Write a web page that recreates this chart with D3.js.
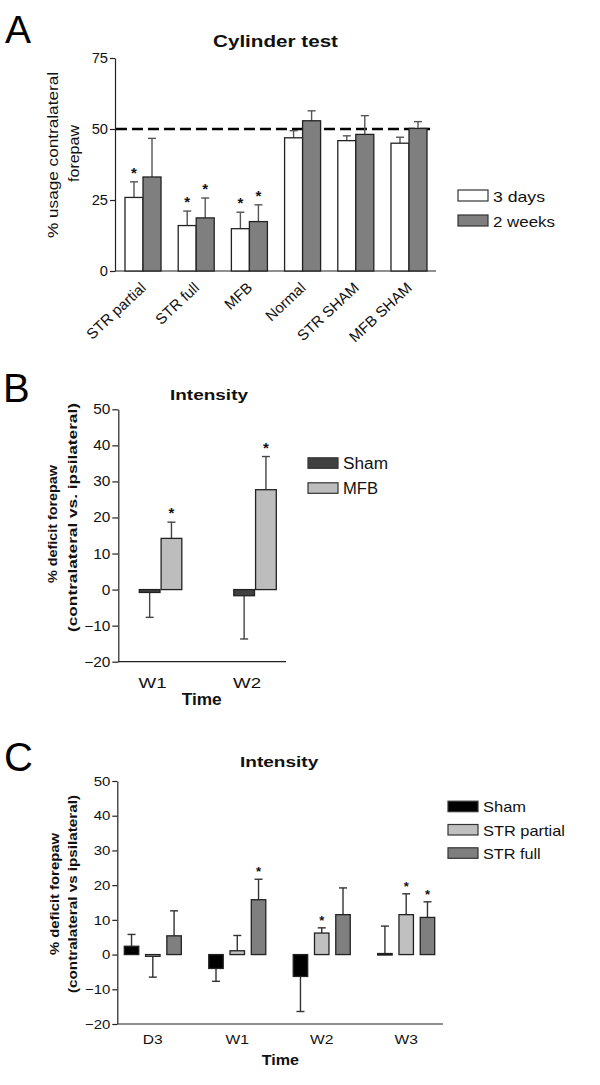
<!DOCTYPE html>
<html><head><meta charset="utf-8">
<script src="https://cdn.jsdelivr.net/npm/d3@7"></script>
<style>body{margin:0;background:#fff}svg{display:block}text{font-family:"Liberation Sans",Arial,sans-serif}</style>
</head><body>
<script>
// ---- Panel A data ----
const catsA = ["STR partial","STR full","MFB","Normal","STR SHAM","MFB SHAM"];
const seriesA = ["3 days","2 weeks"];
const a3days = [25.9,16.0,14.9,46.9,45.9,45.0];
const a3daysErr = [5.5,5.1,5.8,2.5,1.7,2.1];
const a2weeks = [33.1,18.7,17.4,52.9,48.1,50.2];
const a2weeksErr = [13.6,7.0,5.9,3.5,6.6,2.4];
const a3daysStar = [1,1,1,0,0,0];
const a2weeksStar = [0,1,1,0,0,0];
const ticksA = [0,25,50,75];
const refLineA = 50;
// ---- Panel B data ----
const timesB = ["W1","W2"];
const seriesB = ["Sham","MFB"];
const bSham = [-0.8,-1.7];
const bShamErr = [6.9,12.0];
const bMFB = [14.2,27.7];
const bMFBErr = [4.5,9.2];
const bShamStar = [0,0];
const bMFBStar = [1,1];
const ticksB = [-20,-10,0,10,20,30,40,50];
// ---- Panel C data ----
const timesC = ["D3","W1","W2","W3"];
const seriesC = ["Sham","STR partial","STR full"];
const cSham = [2.4,-4.0,-6.3,0.3];
const cShamErr = [3.4,3.7,10.1,7.9];
const cPartial = [-0.5,1.1,6.2,11.5];
const cPartialErr = [6.0,4.4,1.5,6.0];
const cFull = [5.4,15.8,11.5,10.7];
const cFullErr = [7.2,5.9,7.7,4.5];
const cShamStar = [0,0,0,0];
const cPartialStar = [0,0,1,1];
const cFullStar = [0,1,0,1];
const ticksC = [-20,-10,0,10,20,30,40,50];

const svg = d3.select("body").append("svg").attr("width",600).attr("height",1085);
const AX = "#222";
const FONT = "Liberation Sans, Arial, sans-serif";

function stretch(sel, f){
  sel.each(function(){
    const L = this.getComputedTextLength();
    d3.select(this).attr("textLength",L*f).attr("lengthAdjust","spacingAndGlyphs");
  });
}
function txt(g, s, x, y, fs, len, opt={}){
  const t = g.append("text").attr("font-size",fs).attr("fill","#111").text(s);
  if(opt.bold) t.attr("font-weight","bold");
  if(opt.rot!=null){
    t.attr("transform",`translate(${x},${y}) rotate(${opt.rot})`);
  } else { t.attr("x",x).attr("y",y); }
  if(opt.anchor) t.attr("text-anchor",opt.anchor);
  if(len) t.attr("textLength",len).attr("lengthAdjust","spacingAndGlyphs");
  return t;
}

function drawBars(g, cats, series, vals, errs, stars, colors, x, xi, y, opt){
  series.forEach((s,si)=>{
    cats.forEach((c,ci)=>{
      const v = vals[si][ci], e = errs[si][ci];
      const x0 = x(c)+xi(s), w = xi.bandwidth();
      const y0 = y(0), yv = y(v);
      const cx = x0 + w/2;
      const tip = v>=0 ? v+e : v-e;
      g.append("line").attr("x1",cx).attr("x2",cx).attr("y1",yv).attr("y2",y(tip))
        .attr("stroke",opt.errColor).attr("stroke-width",1.4);
      g.append("line").attr("x1",cx-opt.cap).attr("x2",cx+opt.cap).attr("y1",y(tip)).attr("y2",y(tip))
        .attr("stroke",opt.errColor).attr("stroke-width",1.4);
      g.append("rect").attr("x",x0).attr("width",w)
        .attr("y",Math.min(y0,yv)).attr("height",Math.max(Math.abs(y0-yv),1.5))
        .attr("fill",colors[si]).attr("stroke","#222").attr("stroke-width",1.3);
      if(stars[si][ci]){
        g.append("text").attr("x",cx).attr("y",y(tip)-opt.starGap).attr("text-anchor","middle")
          .attr("font-size",opt.starSize).attr("font-weight","bold").attr("fill","#111").text("*");
      }
    });
  });
}
function yAxis(g, y, ticks, xpos, fs, tl, f){
  const ax = d3.axisLeft(y).tickValues(ticks).tickSize(tl).tickPadding(2).tickSizeOuter(0);
  const a = g.append("g").attr("transform",`translate(${xpos},0)`).call(ax);
  a.selectAll("path,line").attr("stroke",AX).attr("stroke-width",1.2);
  a.selectAll("text").attr("font-size",fs).attr("fill","#111").attr("font-family",FONT);
  stretch(a.selectAll("text"), f);
  return a;
}
function legend(g, items, colors, x, y0, dy, fs, bw, bh, lens){
  items.forEach((t,i)=>{
    g.append("rect").attr("x",x).attr("y",y0+i*dy-bh).attr("width",bw).attr("height",bh)
      .attr("fill",colors[i]).attr("stroke","#333").attr("stroke-width",1.2);
    txt(g,t,x+bw+5,y0+i*dy+0.5,fs,lens[i]);
  });
}

// ================= Panel A =================
{
  const g = svg.append("g");
  const y = d3.scaleLinear().domain([0,75]).range([271,58]);
  const x = d3.scaleBand().domain(catsA).range([125,427]).paddingInner(0.323).paddingOuter(0);
  const xi = d3.scaleBand().domain(seriesA).range([0,x.bandwidth()]).padding(0);
  g.append("text").attr("x",5).attr("y",43).attr("font-size",39).attr("fill","#000").text("A");
  txt(g,"Cylinder test",213,47,16.5,125,{bold:true});
  yAxis(g,y,ticksA,115,14,5,1.05);
  const xa = g.append("g").attr("transform",`translate(0,${y(0)})`)
    .call(d3.axisBottom(x).tickSize(0).tickSizeOuter(0));
  xa.select(".domain").attr("d","M115,0H436").attr("stroke",AX).attr("stroke-width",1.2);
  xa.selectAll(".tick").attr("transform",d=>`translate(${x(d)+x.bandwidth()/2},0)`);
  xa.selectAll("text").attr("font-size",15).attr("fill","#111").attr("font-family",FONT)
    .attr("text-anchor","end").attr("dy",null).attr("y",0)
    .attr("transform","translate(4,18) rotate(-43)");
  g.append("line").attr("x1",116).attr("x2",430).attr("y1",y(refLineA)).attr("y2",y(refLineA))
    .attr("stroke","#000").attr("stroke-width",2.6).attr("stroke-dasharray","11,5");
  drawBars(g,catsA,seriesA,[a3days,a2weeks],[a3daysErr,a2weeksErr],[a3daysStar,a2weeksStar],["#ffffff","#7f7f7f"],x,xi,y,
    {errColor:"#555",cap:4,starGap:4,starSize:15});
  txt(g,"% usage contralateral",58,155,15.5,166,{rot:-90,anchor:"middle"});
  txt(g,"forepaw",78.5,153.5,15.5,57,{rot:-90,anchor:"middle"});
  legend(g,seriesA,["#ffffff","#7f7f7f"],458,201,25,14.5,30,11,[52,62]);
}

// ================= Panel B =================
{
  const g = svg.append("g");
  const y = d3.scaleLinear().domain([-20,50]).range([661.7,409.3]);
  const x = d3.scaleBand().domain(timesB).range([139.3,276.3]).paddingInner(0.55).paddingOuter(0);
  const xi = d3.scaleBand().domain(seriesB).range([0,x.bandwidth()]).paddingInner(0.05).paddingOuter(0);
  g.append("text").attr("x",3).attr("y",402).attr("font-size",40).attr("fill","#000").text("B");
  txt(g,"Intensity",170,400,15.5,78,{bold:true});
  yAxis(g,y,ticksB,118.3,14,6,1.1);
  const xa = g.append("g").attr("transform",`translate(0,${y(-20)})`)
    .call(d3.axisBottom(x).tickSize(0).tickSizeOuter(0));
  xa.select(".domain").attr("d","M118.3,0H286").attr("stroke",AX).attr("stroke-width",1.2);
  xa.selectAll("text").attr("font-size",14).attr("fill","#111").attr("font-family",FONT)
    .attr("dy",null).attr("y",26.6).attr("x",-8).attr("textLength",28).attr("lengthAdjust","spacingAndGlyphs");
  drawBars(g,timesB,seriesB,[bSham,bMFB],[bShamErr,bMFBErr],[bShamStar,bMFBStar],["#404040","#bdbdbd"],x,xi,y,
    {errColor:"#444",cap:4,starGap:4,starSize:15});
  txt(g,"Time",181.7,705,16,40,{bold:true});
  txt(g,"% deficit forepaw",57,524,13,118,{rot:-90,anchor:"middle",bold:true});
  txt(g,"(contralateral vs. ipsilateral)",77,517.5,13,229,{rot:-90,anchor:"middle",bold:true});
  legend(g,seriesB,["#404040","#bdbdbd"],308,468.3,25,16,30,10.5,[45,35]);
}

// ================= Panel C =================
{
  const g = svg.append("g");
  const y = d3.scaleLinear().domain([-20,50]).range([1024,781]);
  const x = d3.scaleBand().domain(timesC).range([124.3,434.7]).paddingInner(0.325).paddingOuter(0);
  const xi = d3.scaleBand().domain(seriesC).range([0,x.bandwidth()]).paddingInner(0.32).paddingOuter(0);
  g.append("text").attr("x",4).attr("y",771).attr("font-size",40).attr("fill","#000").text("C");
  txt(g,"Intensity",240,767,15.5,78.3,{bold:true});
  yAxis(g,y,ticksC,117.3,13,5,1.15);
  const xa = g.append("g").attr("transform",`translate(0,${y(-20)})`)
    .call(d3.axisBottom(x).tickSize(0).tickSizeOuter(0));
  xa.select(".domain").attr("d","M117.3,0H443").attr("stroke",AX).attr("stroke-width",1.2);
  xa.selectAll("text").attr("font-size",13).attr("fill","#111").attr("font-family",FONT)
    .attr("dy",null).attr("y",20);
  stretch(xa.selectAll("text"),1.2);
  drawBars(g,timesC,seriesC,[cSham,cPartial,cFull],[cShamErr,cPartialErr,cFullErr],[cShamStar,cPartialStar,cFullStar],["#000000","#c0c0c0","#7f7f7f"],x,xi,y,
    {errColor:"#333",cap:4,starGap:3,starSize:13});
  txt(g,"Time",261.7,1065,15,37.3,{bold:true});
  txt(g,"% deficit forepaw",59,894,12,122,{rot:-90,anchor:"middle",bold:true});
  txt(g,"(contralateral vs ipsilateral)",76.5,894,12,198,{rot:-90,anchor:"middle",bold:true});
  legend(g,seriesC,["#000000","#c0c0c0","#7f7f7f"],448,811.7,23.3,15,30,10.5,[43,82,57.7]);
}
</script>
</body></html>
